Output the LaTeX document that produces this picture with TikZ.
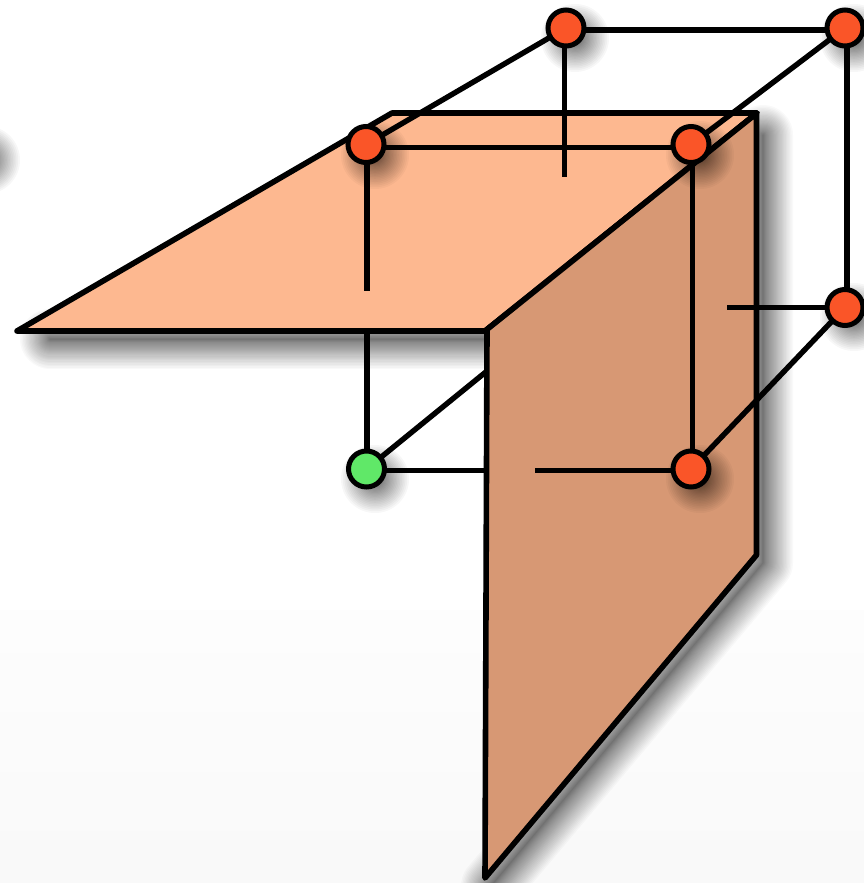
\documentclass[tikz,border=0pt]{standalone}
\pgfdeclarelayer{backdrop}
\pgfdeclarelayer{wires}
\pgfsetlayers{backdrop,wires,main}
\definecolor{vertexred}{HTML}{FA5528}
\definecolor{vertexgreen}{HTML}{60E868}
\definecolor{planetop}{HTML}{FDB890}
\definecolor{planeside}{HTML}{D79874}
\tikzset{
  vertex/.style={circle,draw=black,line width=5pt,minimum size=36pt,inner sep=0pt,outer sep=0pt},
  redvertex/.style={vertex,fill=vertexred},
  greenvertex/.style={vertex,fill=vertexgreen},
  wire/.style={draw=black,line width=5.4pt},
  plane/.style={draw=black,line width=5.6pt,line join=round},
  softstroke/.style={draw=black,opacity=.024,line join=round,line cap=round}
}
\newcommand{\softblob}[2]{%
  \foreach \k in {1,...,24}{%
    \pgfmathsetmacro{\rr}{5+29*(\k/24)^1.5}%
    \fill[black,opacity=.032] (#1,#2) circle[radius=\rr pt];}}
\begin{document}
\begin{tikzpicture}[x=1pt,y=-1pt]
\useasboundingbox (0,0) rectangle (864,883);
\clip (0,0) rectangle (864,883);
\begin{pgfonlayer}{backdrop}
  \fill[white] (0,0) rectangle (864,883);
  \shade[top color=black!.7,bottom color=black!2.5] (0,610) rectangle (864,883);
  \softblob{-14}{160}
  % shadows of the planes
  \foreach \k in {1,...,30}{
    \pgfmathsetmacro{\ww}{2*30*(\k/30)^1.5}
    \path[softstroke,line width=\ww pt] (50,339) -- (491,339);
    \path[softstroke,line width=\ww pt]
      (763,135) -- (763,563) -- (491,886);
  }
  \coordinate (hA) at (17,331);
  \coordinate (hB) at (485,331);
  \coordinate (hC) at (757,113);
  \coordinate (hD) at (392,113);
  \coordinate (vA) at (487,331);
  \coordinate (vR) at (756.5,113);
  \coordinate (vB) at (756.5,555);
  \coordinate (vC) at (485,878);
  \path[plane,fill=planetop] (hA) -- (hB) -- (hC) -- (hD) -- cycle;
  \path[plane,fill=planeside] (vA) -- (hB) -- (hC) -- (vR) -- (vB) -- (vC) -- cycle;
\end{pgfonlayer}

\softblob{575}{38}
\softblob{854}{38}
\softblob{375}{155}
\softblob{700}{155}
\softblob{854}{317}
\softblob{700}{479}
\softblob{375}{479}
\node[redvertex] (backTL) at (566,28) {};
\node[redvertex] (backTR) at (845,28) {};
\node[redvertex] (frontTL) at (366,144.5) {};
\node[redvertex] (frontTR) at (691,144.5) {};
\node[redvertex] (backBR) at (845,307.5) {};
\node[redvertex] (frontBR) at (691,469) {};
\node[greenvertex] (frontBL) at (366.5,469) {};

\coordinate (stubBack) at (564.5,177);
\coordinate (stubFront) at (367,291);
\coordinate (underFront) at (367,331);
\coordinate (diagEnd) at (487,371);
\coordinate (horizEnd) at (487,470.3);
\coordinate (horizStart) at (535,470.3);
\coordinate (rightStub) at (727,307.7);

\begin{pgfonlayer}{wires}
  \draw[wire] ([yshift=-2pt]backTL.east) -- ([yshift=-2pt]backTR.west);
  \draw[wire] (backTL) -- (frontTL);
  \draw[wire] (backTR) -- (frontTR);
  \draw[wire] ([yshift=-3pt]frontTL.east) -- ([yshift=-3pt]frontTR.west);
  \draw[wire] (stubBack|-backTL.south) -- (stubBack);
  \draw[wire] (stubFront|-frontTL.south) -- (stubFront);
  \draw[wire] (underFront) -- (underFront|-frontBL.north);
  \draw[wire] (frontBL) -- (diagEnd);
  \draw[wire] (horizEnd-|frontBL.east) -- (horizEnd);
  \draw[wire] (horizStart) -- (horizStart-|frontBR.west);
  \draw[wire] ([xshift=1.4pt]frontTR.south) -- ([xshift=1.4pt]frontBR.north);
  \draw[wire] (frontBR) -- (backBR);
  \draw[wire] ([xshift=2pt]backTR.south) -- ([xshift=2pt]backBR.north);
  \draw[wire] (rightStub) -- (rightStub-|backBR.west);
\end{pgfonlayer}
\end{tikzpicture}
\end{document}
